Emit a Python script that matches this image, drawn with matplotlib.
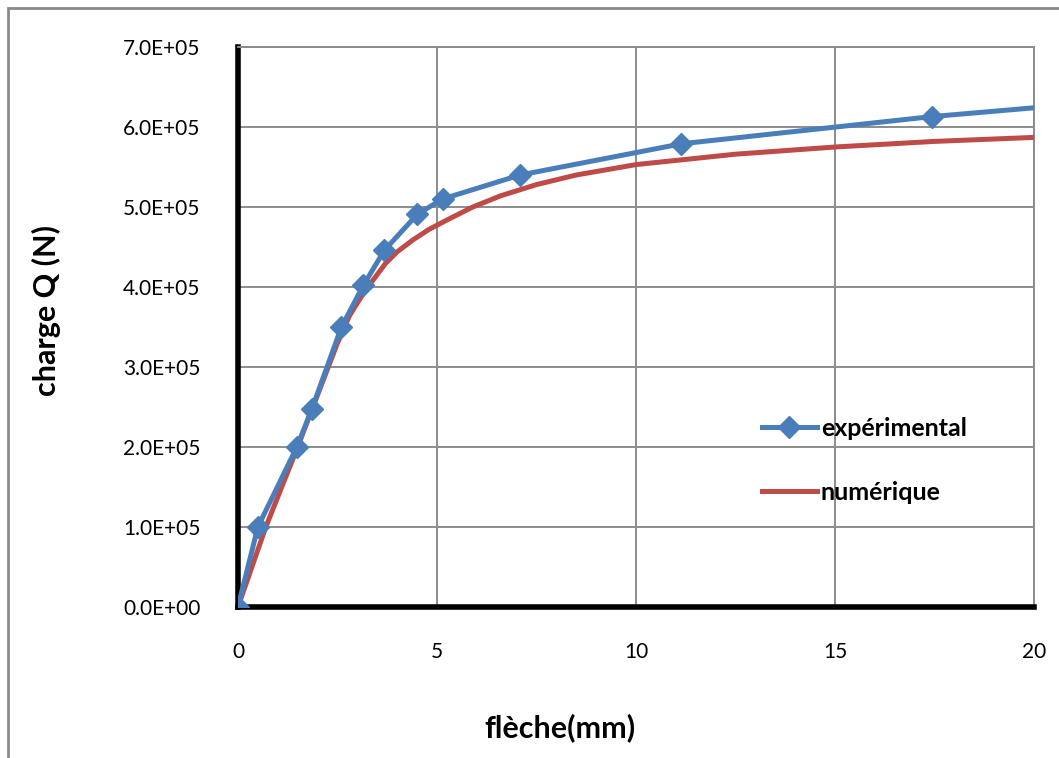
import matplotlib.pyplot as plt
from matplotlib.patches import Rectangle
from matplotlib.ticker import FuncFormatter

# experimental load-deflection points (deflection in mm, load in N)
exp_fleche = [0, 0.5, 1.48, 1.86, 2.6, 3.15, 3.68, 4.51, 5.14, 7.09, 11.14, 17.43, 20.0]
exp_charge = [0, 1.0e5, 2.0e5, 2.48e5, 3.5e5, 4.02e5, 4.46e5, 4.91e5, 5.10e5,
              5.40e5, 5.79e5, 6.13e5, 6.24e5]

# numerical curve
num_fleche = [0, 0.7, 1.5, 2.0, 2.5, 2.8, 3.1, 3.4, 3.7, 4.0, 4.4, 4.8, 5.3, 5.9,
              6.6, 7.5, 8.5, 10, 12.5, 15, 17.5, 20]
num_charge = [0, 1.0e5, 2.0e5, 2.65e5, 3.3e5, 3.64e5, 3.88e5, 4.09e5, 4.29e5, 4.44e5,
              4.59e5, 4.72e5, 4.85e5, 5.0e5, 5.14e5, 5.28e5, 5.40e5, 5.53e5, 5.66e5,
              5.75e5, 5.82e5, 5.87e5]

x_ticks = [0, 5, 10, 15, 20]
y_ticks = [0, 1e5, 2e5, 3e5, 4e5, 5e5, 6e5, 7e5]

blue = '#4A7EBB'
red = '#BE4B48'
grid_col = '#8C8C8C'

plt.rcParams['font.family'] = ['Lato', 'DejaVu Sans']

fig = plt.figure(figsize=(10.59, 7.58), dpi=100)
ax = fig.add_axes([0.2247, 0.1992, 0.7517, 0.7388])

# outer chart border (only left and top visible in the crop)
fig.add_artist(Rectangle((8 / 1059, -0.5), 2.0, 1.5 - 8 / 758, transform=fig.transFigure,
                         fill=False, edgecolor='#8A8A8A', linewidth=2))

ax.plot(exp_fleche, exp_charge, color=blue, linewidth=3.6, marker='D', markersize=11,
        markevery=slice(0, len(exp_fleche) - 1), label='expérimental',
        solid_joinstyle='round', zorder=4)
ax.plot(num_fleche, num_charge, color=red, linewidth=3.6, label='numérique',
        solid_joinstyle='round', zorder=3)

ax.set_xlim(0, 20)
ax.set_ylim(0, 7e5)
ax.set_xticks(x_ticks)
ax.set_yticks(y_ticks)
ax.yaxis.set_major_formatter(FuncFormatter(lambda v, p: '{:.1E}'.format(v)))
ax.tick_params(axis='both', length=0, labelsize=15)
ax.tick_params(axis='x', pad=25)
ax.tick_params(axis='y', pad=27)

ax.grid(True, color=grid_col, linewidth=1.4)
ax.set_axisbelow(True)
for side in ('top', 'right'):
    ax.spines[side].set_color(grid_col)
    ax.spines[side].set_linewidth(1.4)
for side in ('left', 'bottom'):
    ax.spines[side].set_color('black')
    ax.spines[side].set_linewidth(4)

ax.set_xlabel('flèche(mm)', fontsize=22, fontweight='bold', va='center')
ax.set_ylabel('charge Q (N)', fontsize=22, fontweight='bold', va='center', ha='center')
ax.xaxis.set_label_coords(0.4045, -0.215)
ax.yaxis.set_label_coords(-0.24, 0.53)

leg = ax.legend(loc='upper left', bbox_to_anchor=(0.630, 0.380), frameon=False,
                prop={'size': 18, 'weight': 'bold'}, handlelength=2.2,
                handletextpad=0.15, labelspacing=1.64)

fig.savefig('out.png', dpi=100)
